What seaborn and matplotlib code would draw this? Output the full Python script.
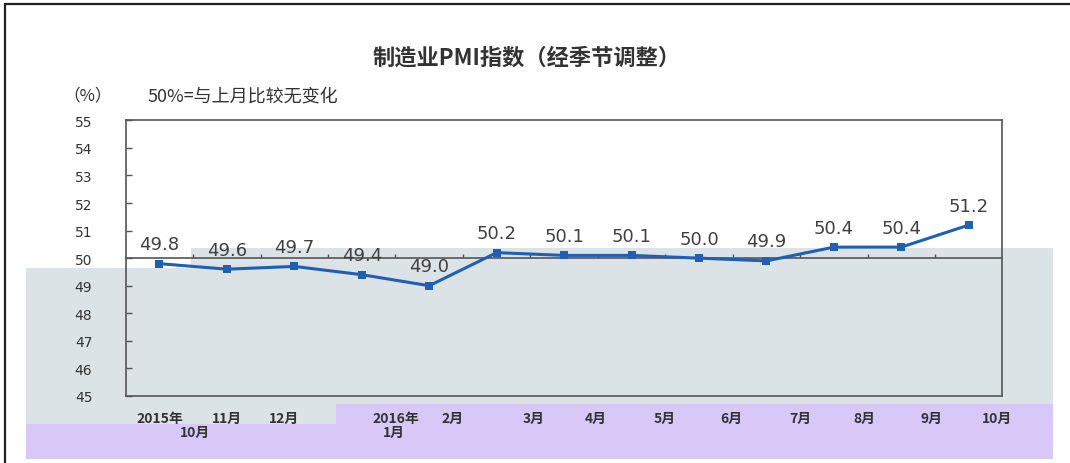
import numpy as np
import pandas as pd
import matplotlib
matplotlib.use("Agg")
import matplotlib.pyplot as plt
from matplotlib.patches import Polygon
import seaborn as sns

# data
months = ['2015-10', '2015-11', '2015-12', '2016-01', '2016-02', '2016-03', '2016-04',
          '2016-05', '2016-06', '2016-07', '2016-08', '2016-09', '2016-10']
pmi = [49.8, 49.6, 49.7, 49.4, 49.0, 50.2, 50.1, 50.1, 50.0, 49.9, 50.4, 50.4, 51.2]
tick_top = ['2015年', '11月', '12月', '2016年', '2月', '3月', '4月', '5月', '6月',
            '7月', '8月', '9月', '10月']
tick_bottom = ['10月', '', '', '1月', '', '', '', '', '', '', '', '', '']
y_ticks = [45, 46, 47, 48, 49, 50, 51, 52, 53, 54, 55]

# label placement (shift in category units, as in the original)
top_shift = [0.0, 0.0, -0.15, 0.5, 0.35, 0.55, 0.47, 0.49, 0.48, 0.5, 0.45, 0.45, 0.42]
bottom_shift = [0.53, 0, 0, 0.47, 0, 0, 0, 0, 0, 0, 0, 0, 0]

df = pd.DataFrame({'idx': np.arange(len(months)), 'pmi': pmi})

sns.set_style("white")
plt.rcParams['font.family'] = ['Noto Sans CJK SC', 'DejaVu Sans']

W, H = 1070, 464
fig = plt.figure(figsize=(W / 100, H / 100), dpi=100)
fig.patch.set_facecolor('white')


def px(pts):
    return [(x / W, 1 - y / H) for x, y in pts]


# background bands of the scanned original
gray = Polygon(px([(26, 269), (191, 269), (191, 249), (1053, 249), (1053, 405),
                   (336, 405), (336, 425), (26, 425)]),
               closed=True, transform=fig.transFigure, facecolor='#dce3e6',
               edgecolor='none', zorder=-2)
purple = Polygon(px([(26, 425), (336, 425), (336, 405), (1053, 405), (1053, 460),
                     (26, 460)]),
                 closed=True, transform=fig.transFigure, facecolor='#d8c8f8',
                 edgecolor='none', zorder=-2)
fig.add_artist(gray)
fig.add_artist(purple)

# outer frame (left and top only visible)
fig.add_artist(plt.Line2D([5 / W, 5 / W], [0, 1 - 5 / H], transform=fig.transFigure,
                          color='#222222', lw=1.6))
fig.add_artist(plt.Line2D([5 / W, 1], [1 - 5 / H, 1 - 5 / H], transform=fig.transFigure,
                          color='#222222', lw=1.6))

ax = fig.add_axes([125.7 / W, 1 - 397 / H, 876.8 / W, 275.7 / H])
ax.set_facecolor('none')

sns.lineplot(data=df, x='idx', y='pmi', ax=ax, color='#1f5fb4', lw=2.2,
             marker='s', markersize=5.5, markeredgewidth=0)

ax.set_xlim(-0.5, len(months) - 0.5)
ax.set_ylim(45, 55)
ax.set_yticks(y_ticks)
ax.set_yticklabels([str(v) for v in y_ticks], family='DejaVu Sans', fontsize=10,
                   color='#333333')
ax.tick_params(axis='y', direction='in', length=4, width=1, color='#555555', pad=24,
               left=True)
ax.set_xticks([])
ax.set_xlabel('')
ax.set_ylabel('')
for s in ax.spines.values():
    s.set_color('#555555')
    s.set_linewidth(1.2)

# horizontal axis crossing at 50 with small upward ticks at boundaries
sec = ax.secondary_xaxis(0.5)
sec.set_alignment('bottom')
sec.set_xticks(np.arange(0.5, len(months) - 0.5, 1))
sec.tick_params(direction='in', length=3, width=1, color='#555555', labelbottom=False)
sec.spines['bottom'].set_color('#555555')
sec.spines['bottom'].set_linewidth(1.2)

# value labels
for i, v in enumerate(pmi):
    ax.annotate(f'{v:.1f}', (i, v), xytext=(0, 14), textcoords='offset points',
                ha='center', va='center', family='DejaVu Sans', fontsize=13,
                color='#404040')

# category labels
tr = ax.get_xaxis_transform()
for i, (t, b) in enumerate(zip(tick_top, tick_bottom)):
    ax.text(i + top_shift[i], -0.078, t, transform=tr, ha='center', va='center',
            fontsize=10, fontweight='bold', color='#333333')
    if b:
        ax.text(i + bottom_shift[i], -0.131, b, transform=tr, ha='center', va='center',
                fontsize=10, fontweight='bold', color='#333333')

fig.text(527 / W, 1 - 58.5 / H, '制造业PMI指数（经季节调整）', ha='center', va='center',
         fontsize=16, fontweight='bold', color='#333333')
fig.text(63 / W, 1 - 96.4 / H, '（%）', ha='left', va='center', fontsize=12,
         color='#333333')
fig.text(148 / W, 1 - 96.4 / H, '50%=与上月比较无变化', ha='left', va='center',
         fontsize=13, color='#333333')

plt.savefig('out.png', dpi=100)
